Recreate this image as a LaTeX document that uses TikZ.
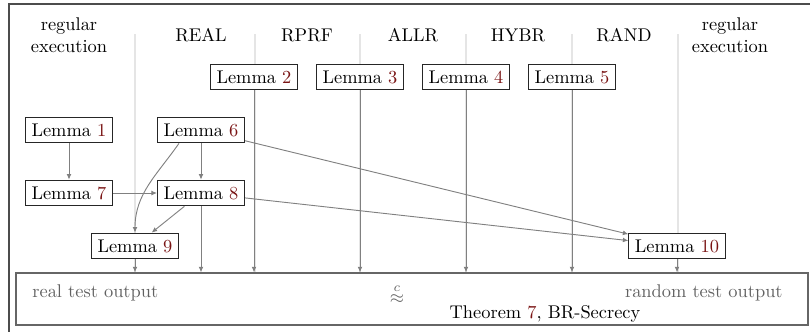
\documentclass[tikz,border=0pt]{standalone}
\usetikzlibrary{arrows.meta,calc}
\definecolor{numred}{rgb}{0.48,0.08,0.08}
\definecolor{sepgray}{gray}{0.9}
\definecolor{arrgray}{gray}{0.5}
\definecolor{txtgray}{gray}{0.38}
\newcommand\lem[1]{Lemma \textcolor{numred}{#1}}
\begin{document}
\begin{tikzpicture}[x=0.5435pt,y=-0.5435pt,
  lem/.style={draw=black!85,fill=white,line width=0.5pt,minimum height=14pt},
  arr/.style={draw=arrgray,line width=0.5pt,-{Latex[length=3pt,width=2.6pt]}},
  sepline/.style={draw=sepgray,line width=0.6pt},
  hdr/.style={align=center}]
\useasboundingbox (0,0) rectangle (810,332);
\draw[black!70,line width=0.8pt] (810,4) -- (9,4) -- (9,332);
\foreach \x in {135,255,360,466,572,678} \draw[sepline] (\x,34) -- (\x,273);
% headers
\node[hdr] (h1) at (69,35) {regular\\execution};
\node[hdr] (h2) at (201,35) {REAL};
\node[hdr] (h3) at (307,35) {RPRF};
\node[hdr] (h4) at (413,35) {ALLR};
\node[hdr] (h5) at (518,35) {HYBR};
\node[hdr] (h6) at (624,35) {RAND};
\node[hdr] (h7) at (730,35) {regular\\execution};
% lemmas
\node[lem] (L2) at (254,77) {\lem{2}};
\node[lem] (L3) at (360,77) {\lem{3}};
\node[lem] (L4) at (466,77) {\lem{4}};
\node[lem] (L5) at (572,77) {\lem{5}};
\node[lem] (L1) at (69,130) {\lem{1}};
\node[lem] (L6) at (201,130) {\lem{6}};
\node[lem] (L7) at (69,193) {\lem{7}};
\node[lem] (L8) at (201,193) {\lem{8}};
\node[lem] (L9) at (135,246) {\lem{9}};
\node[lem] (L10) at (677,246) {\lem{10}};
% output box
\node[draw=black!60,line width=0.6pt,minimum width=430.4pt,minimum height=28.3pt,inner sep=0pt] (out) at (412,299) {};
\node[anchor=base west,text=txtgray,inner sep=0pt] (rt) at (32,297) {real test output};
\node[anchor=base east,text=txtgray,inner sep=0pt] (rnd) at (783,297) {random test output};
\node[text=txtgray,inner sep=0pt] (apx) at (397,294) {$\stackrel{c}{\approx}$};
\node[anchor=base,inner sep=0pt] (thm) at (545,318) {Theorem \textcolor{numred}{7}, BR-Secrecy};
% arrows
\draw[arr] (L1) -- (L7);
\draw[arr] (L6) -- (L8);
\draw[arr] (L7) -- (L8);
\draw[arr] (L8) -- (L9);
\draw[arr] (L6) -- (L10);
\draw[arr] (L8) -- (L10);
\draw[arr] ($(L6.south)+(-22,0)$) to[out=235,in=90] (L9.north);
\foreach \n in {L9,L8,L2,L3,L4,L5,L10} \draw[arr] (\n) -- (\n |- out.north);
\end{tikzpicture}
\end{document}
